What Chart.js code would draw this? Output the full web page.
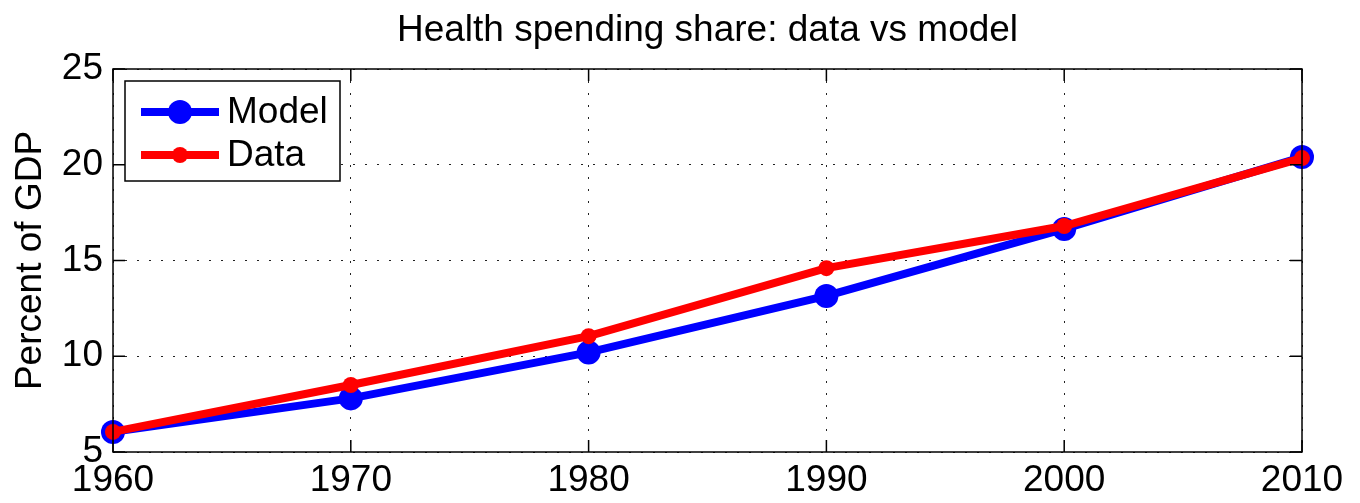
<!DOCTYPE html>
<html>
<head>
<meta charset="utf-8">
<script src="https://cdn.jsdelivr.net/npm/chart.js@4.4.0/dist/chart.umd.min.js"></script>
<style>
  html, body { margin: 0; padding: 0; background: #fff; }
  #wrap { width: 1360px; height: 503px; }
</style>
</head>
<body>
<div id="wrap"><canvas id="chart" width="1360" height="503"></canvas></div>
<script>
var years = [1960, 1970, 1980, 1990, 2000, 2010]
var modelValues = [6.05, 7.8, 10.2, 13.15, 16.65, 20.4]
var dataValues = [6.05, 8.5, 11.05, 14.6, 16.8, 20.35]
var yTicks = [5, 10, 15, 20, 25]
var titleText = 'Health spending share: data vs model'

var FONT = '"Liberation Sans", Arial, Helvetica, sans-serif'
var FSIZE = 37

// title over the axes, box, inward ticks and in-plot legend, MATLAB style
var matlabBox = {
    id: 'matlabBox',
    afterDatasetsDraw: function (chart) {
        var ctx = chart.ctx
        var a = chart.chartArea
        var xs = chart.scales.x, ys = chart.scales.y
        ctx.save()

        ctx.fillStyle = '#000'
        ctx.font = FSIZE + 'px ' + FONT
        ctx.textAlign = 'center'
        ctx.textBaseline = 'middle'
        ctx.fillText(titleText, (a.left + a.right) / 2, 31)

        ctx.strokeStyle = '#000'
        ctx.lineWidth = 1.5
        ctx.strokeRect(a.left, a.top, a.right - a.left, a.bottom - a.top)
        ctx.beginPath()
        years.forEach(function (yr) {
            var px = xs.getPixelForValue(yr)
            ctx.moveTo(px, a.bottom); ctx.lineTo(px, a.bottom - 12)
            ctx.moveTo(px, a.top); ctx.lineTo(px, a.top + 12)
        })
        yTicks.forEach(function (v) {
            var py = ys.getPixelForValue(v)
            ctx.moveTo(a.left, py); ctx.lineTo(a.left + 12, py)
            ctx.moveTo(a.right, py); ctx.lineTo(a.right - 12, py)
        })
        ctx.stroke()

        // legend
        var lx = a.left + 12, ly = a.top + 12, lw = 215, lh = 100
        ctx.fillStyle = '#fff'
        ctx.fillRect(lx, ly, lw, lh)
        ctx.lineWidth = 1.5
        ctx.strokeRect(lx, ly, lw, lh)
        var rows = [ly + 31, ly + 74]
        chart.data.datasets.forEach(function (ds, i) {
            var cy = rows[i]
            ctx.strokeStyle = ds.borderColor
            ctx.lineWidth = ds.borderWidth
            ctx.beginPath()
            ctx.moveTo(lx + 16, cy); ctx.lineTo(lx + 94, cy)
            ctx.stroke()
            ctx.fillStyle = ds.pointBackgroundColor
            ctx.beginPath()
            ctx.arc(lx + 55, cy, ds.pointRadius, 0, Math.PI * 2)
            ctx.fill()
            ctx.fillStyle = '#000'
            ctx.font = FSIZE + 'px ' + FONT
            ctx.textBaseline = 'middle'
            ctx.textAlign = 'left'
            ctx.fillText(ds.label, lx + 102, cy + 1)
        })
        ctx.restore()
    }
}

var ctx = document.getElementById('chart').getContext('2d')
var myChart = new Chart(ctx, {
    type: 'line',
    data: {
        labels: years,
        datasets: [
            {
                label: 'Model',
                data: years.map(function (y, i) { return {x: y, y: modelValues[i]} }),
                borderColor: '#0000ff',
                borderWidth: 8,
                pointRadius: 12,
                pointBackgroundColor: '#0000ff',
                pointBorderColor: '#0000ff',
                pointBorderWidth: 0,
                clip: false,
                order: 2
            },
            {
                label: 'Data',
                data: years.map(function (y, i) { return {x: y, y: dataValues[i]} }),
                borderColor: '#ff0000',
                borderWidth: 8,
                pointRadius: 8,
                pointBackgroundColor: '#ff0000',
                pointBorderColor: '#ff0000',
                pointBorderWidth: 0,
                clip: false,
                order: 1
            }
        ]
    },
    plugins: [matlabBox],
    options: {
        responsive: false,
        animation: false,
        layout: { padding: { top: 69, right: 58, left: 0, bottom: 0 } },
        plugins: {
            legend: { display: false },
            tooltip: { enabled: false },
            title: { display: false }
        },
        scales: {
            x: {
                type: 'linear',
                min: 1960,
                max: 2010,
                afterFit: function (s) { s.height = 51 },
                afterBuildTicks: function (s) { s.ticks = years.map(function (v) { return {value: v} }) },
                border: { display: false, dash: [2, 10] },
                grid: { color: '#222', lineWidth: 1, drawTicks: false },
                ticks: {
                    color: '#000',
                    padding: 7,
                    maxRotation: 0,
                    font: { family: FONT, size: FSIZE },
                    callback: function (v) { return String(v) }
                }
            },
            y: {
                min: 5,
                max: 25,
                afterFit: function (s) { s.width = 113 },
                afterBuildTicks: function (s) { s.ticks = yTicks.map(function (v) { return {value: v} }) },
                border: { display: false, dash: [2, 10] },
                grid: { color: '#222', lineWidth: 1, drawTicks: false },
                ticks: {
                    color: '#000',
                    padding: 10,
                    font: { family: FONT, size: FSIZE }
                },
                title: {
                    display: true,
                    text: 'Percent of GDP',
                    color: '#000',
                    font: { family: FONT, size: FSIZE },
                    padding: { top: 9, bottom: 0 }
                }
            }
        }
    }
})
</script>
</body>
</html>
